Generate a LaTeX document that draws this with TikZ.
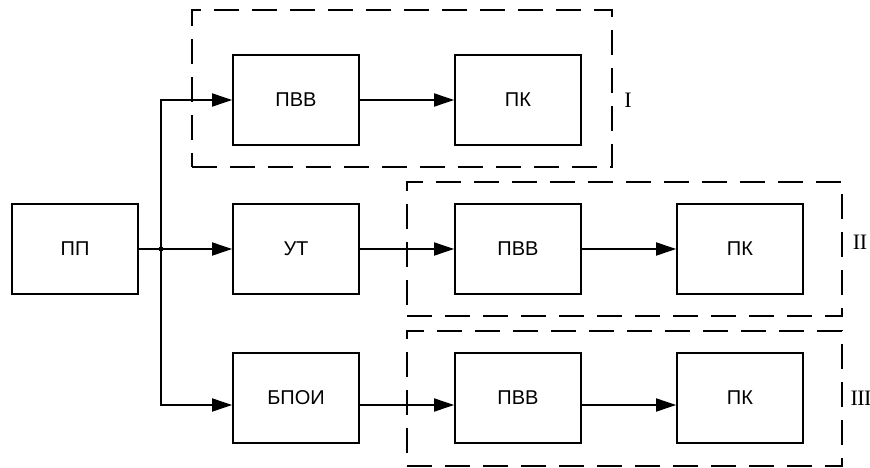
\documentclass[tikz,border=0pt]{standalone}
\usepackage{fontspec}
\setmainfont{Liberation Sans}
\newfontfamily\romfont{Liberation Serif}
\usepackage{xcolor}
\usepackage{tikz}
\usetikzlibrary{arrows.meta,positioning,calc}
\definecolor{cInk}{HTML}{000000}
\tikzset{
  blk/.style={draw=cInk,line width=1.8pt,minimum width=126pt,minimum height=90pt,inner sep=0pt,font=\fontsize{20}{22}\selectfont,text=cInk},
  grp/.style={draw=cInk,line width=1.8pt,dash pattern=on 25pt off 13pt,inner sep=0pt},
  arr/.style={-{Triangle[length=20pt,width=13pt]},line width=1.8pt,color=cInk},
  ln/.style={line width=1.8pt,color=cInk},
  rom/.style={font=\romfont\fontsize{22}{24}\selectfont,text=cInk,inner sep=0pt},
}

\begin{document}
\begin{tikzpicture}[x=1pt,y=-1pt]
  \useasboundingbox (0,0) rectangle (870,468);
  % dashed groups
  \node[grp,minimum width=420pt,minimum height=157pt] (g1) at (402,88.5) {};
  \node[grp,minimum width=435pt,minimum height=134pt] (g2) at (624.5,249) {};
  \node[grp,minimum width=435pt,minimum height=135pt] (g3) at (624.5,398.5) {};
  \node[rom] (r1) at (628,100) {I};
  \node[rom] (r2) at (860,242) {I\kern-0.5ptI};
  \node[rom] (r3) at (861,398) {I\kern-0.5ptI\kern-0.5ptI};
  % blocks
  \node[blk] (pp) at (75,249) {ПП};
  \node[blk] (pvv1) at (296,100) {ПВВ};
  \node[blk] (pk1) at (518,100) {ПК};
  \node[blk] (ut) at (296,249) {УТ};
  \node[blk] (pvv2) at (518,249) {ПВВ};
  \node[blk] (pk2) at (740,249) {ПК};
  \node[blk] (bpoi) at (296,398) {БПОИ};
  \node[blk] (pvv3) at (518,398) {ПВВ};
  \node[blk] (pk3) at (740,398) {ПК};
  \coordinate (j) at (161,249);
  \draw[ln] (pp) -- (j);
  \fill[cInk] (j) circle (2.5pt);
  \draw[arr] (j) |- (pvv1);
  \draw[arr] (j) -- (ut);
  \draw[arr] (j) |- ([yshift=-7pt]bpoi.west);
  \draw[arr] (pvv1) -- (pk1);
  \draw[arr] (ut) -- (pvv2);
  \draw[arr] (pvv2) -- (pk2);
  \draw[arr] ([yshift=-7pt]bpoi.east) -- ([yshift=-7pt]pvv3.west);
  \draw[arr] ([yshift=-7pt]pvv3.east) -- ([yshift=-7pt]pk3.west);
\end{tikzpicture}
\end{document}
